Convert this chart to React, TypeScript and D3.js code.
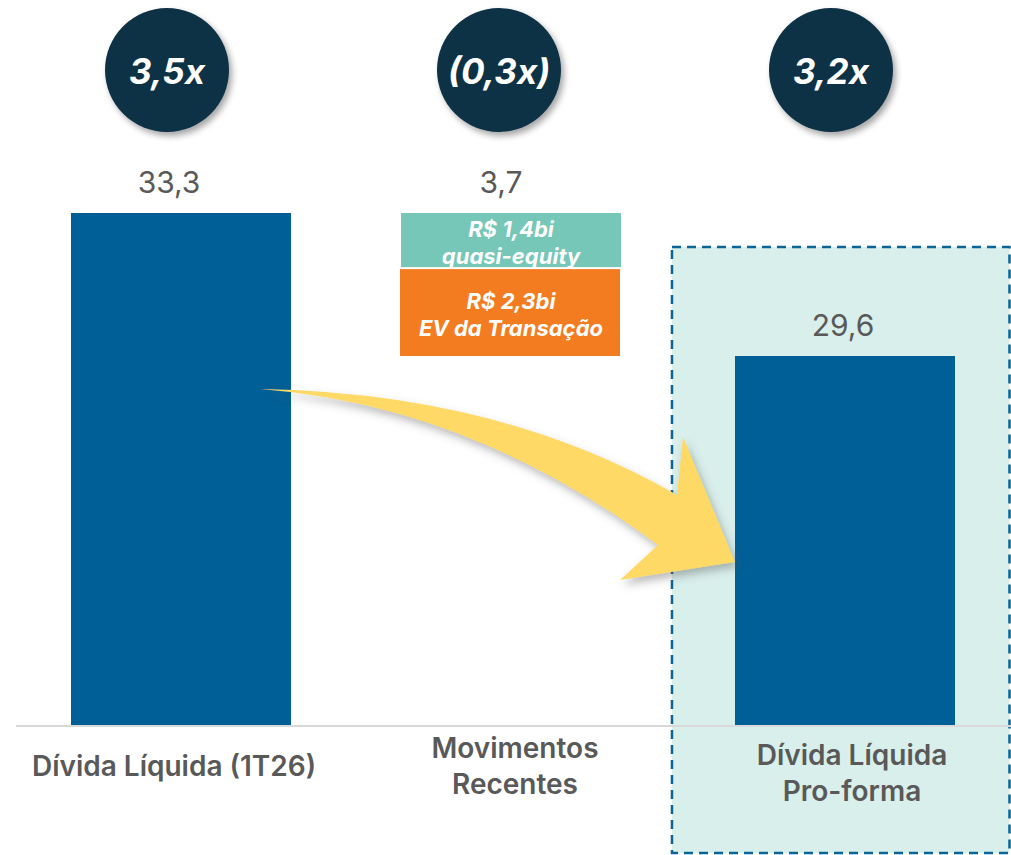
import React from 'react';
import * as d3 from 'd3';

const categories = ['Dívida Líquida (1T26)', 'Movimentos Recentes', 'Dívida Líquida Pro-forma'];
const categoryLines = [['Dívida Líquida (1T26)'], ['Movimentos', 'Recentes'], ['Dívida Líquida', 'Pro-forma']];
const barValues = [33.3, 29.6]; // first and last bar
const movementValues = [1.4, 2.3]; // stacked inside "Movimentos Recentes"
const movementLabels = [['R$ 1,4bi', 'quasi-equity'], ['R$ 2,3bi', 'EV da Transação']];
const valueLabels = ['33,3', '3,7', '29,6'];
const multiples = ['3,5x', '(0,3x)', '3,2x'];

const W = 1011;
const H = 855;
const BLUE = '#005f96';
const NAVY = '#0c3045';
const GREY = '#595959';
const movementColors = ['#76c7b7', '#f47c20'];

const App: React.FC = () => {
  const x = d3.scaleBand<string>()
    .domain(categories)
    .range([15, W])
    .paddingInner(0.3373)
    .paddingOuter(0.1687);
  const bw = x.bandwidth();

  // broken waterfall scale: the movement part is stretched
  const start = barValues[0];
  const end = barValues[1];
  const y = d3.scaleLinear().domain([0, end, start]).range([725, 356, 213]);

  // movement segments stacked down from the first bar top
  let acc = start;
  const segments = movementValues.map((v, i) => {
    const top = acc;
    acc -= v;
    return { top, bottom: acc, color: movementColors[i], lines: movementLabels[i] };
  });

  const tops = [y(start), y(start), y(end)];
  const cx = (i: number) => (x(categories[i]) as number) + bw / 2;

  // curved arrow from first bar to pro-forma bar
  const ax0 = (x(categories[0]) as number) + bw; // 291
  const ax1 = x(categories[2]) as number; // 735
  const arrow = d3.path();
  arrow.moveTo(ax0 - 31, 389);
  arrow.quadraticCurveTo(ax0 + 209, 393, ax1 - 58, 495);
  arrow.lineTo(ax1 - 52, 437);
  arrow.lineTo(ax1, 562);
  arrow.lineTo(ax1 - 115, 580);
  arrow.lineTo(ax1 - 77, 545);
  arrow.quadraticCurveTo(ax0 + 179, 405, ax0 - 31, 389);
  arrow.closePath();

  const boxLeft = (x(categories[2]) as number) - 63;

  return (
    <svg
      width={W}
      height={H}
      style={{ position: 'absolute', left: 0, top: 0, fontFamily: 'Inter, "Noto Sans", sans-serif' }}
    >
      <defs>
        <filter id="shadow" x="-20%" y="-20%" width="150%" height="150%">
          <feDropShadow dx="3" dy="4" stdDeviation="3" floodColor="#000" floodOpacity="0.35" />
        </filter>
        <filter id="arrowShadow" x="-10%" y="-10%" width="130%" height="140%">
          <feDropShadow dx="3" dy="5" stdDeviation="4" floodColor="#555" floodOpacity="0.4" />
        </filter>
      </defs>

      {/* highlighted pro-forma area */}
      <rect
        x={boxLeft}
        y={247}
        width={W - 1.5 - boxLeft}
        height={H - 2 - 247}
        fill="#d9efeb"
        stroke="#0a6496"
        strokeWidth={2.5}
        strokeDasharray="9 6"
      />

      {/* baseline */}
      <line x1={16} x2={W} y1={y(0) + 1} y2={y(0) + 1} stroke="#d9d9d9" strokeWidth={2} />

      {/* bars */}
      <rect x={x(categories[0])} y={y(start)} width={bw} height={y(0) - y(start)} fill={BLUE} />
      <rect x={x(categories[2])} y={y(end)} width={bw} height={y(0) - y(end)} fill={BLUE} />

      {/* movement segments */}
      {segments.map((s, i) => {
        const y0 = y(s.top);
        const y1 = y(s.bottom);
        const mid = (y0 + y1) / 2;
        return (
          <g key={i}>
            <rect
              x={(x(categories[1]) as number) - 2 + i * -1}
              y={y0 + (i ? 2 : 0)}
              width={bw}
              height={y1 - y0 - (i ? 2 : 0)}
              fill={s.color}
            />
            {s.lines.map((t, j) => (
              <text
                key={j}
                x={cx(1) - 2}
                y={mid - 3 + j * 27}
                textAnchor="middle"
                fill="#fff"
                fontSize={22}
                fontWeight={700}
                fontStyle="italic"
              >
                {t}
              </text>
            ))}
          </g>
        );
      })}

      {/* arrow */}
      <path d={arrow.toString()} fill="#fed966" filter="url(#arrowShadow)" />

      {/* value labels */}
      {valueLabels.map((v, i) => (
        <text key={v} x={cx(i) + [-12, -12, -2][i]} y={tops[i] - 20} textAnchor="middle" fill={GREY} fontSize={30}>
          {v}
        </text>
      ))}

      {/* leverage circles */}
      {multiples.map((m, i) => (
        <g key={m} transform={`translate(${cx(i) - 14},70)`}>
          <circle r={62} fill={NAVY} filter="url(#shadow)" />
          <text y={14} textAnchor="middle" fill="#fff" fontSize={35} fontWeight={700} fontStyle="italic">
            {m}
          </text>
        </g>
      ))}

      {/* category labels */}
      {categoryLines.map((lines, i) => {
        const first = [776, 758, 765][i];
        return lines.map((t, j) => (
          <text
            key={`${i}-${j}`}
            x={cx(i) + [-7, 2, 7][i]}
            y={first + j * 36}
            textAnchor="middle"
            fill={GREY}
            fontSize={28}
            fontWeight={600}
          >
            {t}
          </text>
        ));
      })}
    </svg>
  );
};

export default App;
